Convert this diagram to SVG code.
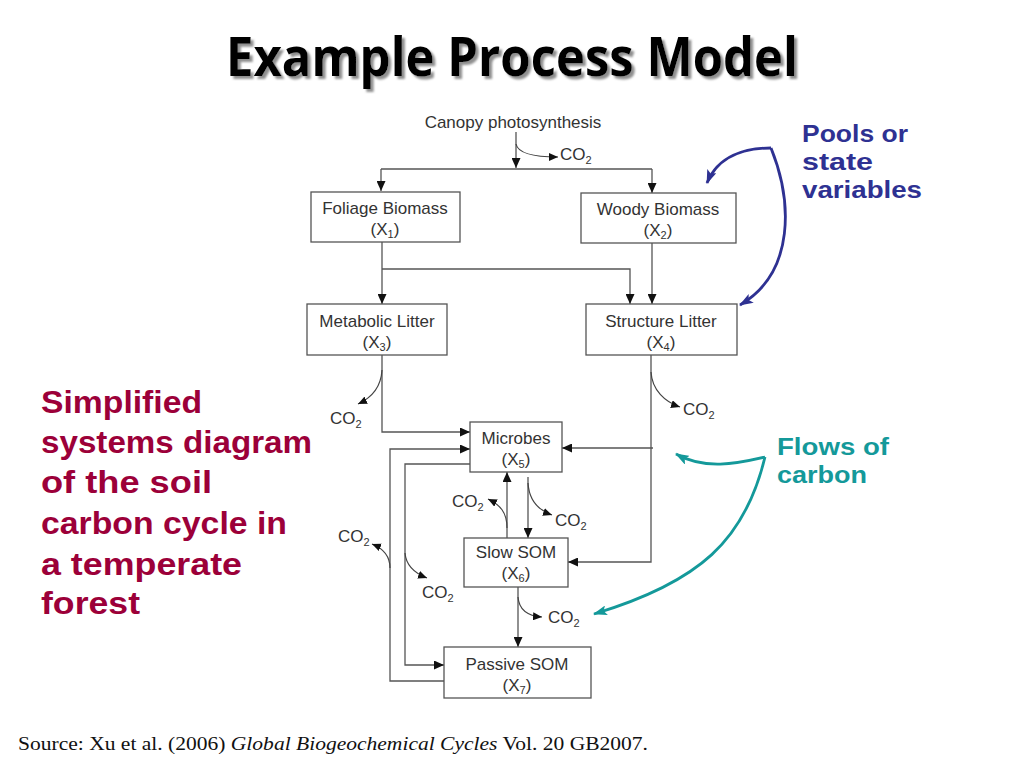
<svg xmlns="http://www.w3.org/2000/svg" width="1024" height="768" viewBox="0 0 1024 768">
<style>
.box{fill:#fff;stroke:#555;stroke-width:1.3}
.lbl{font-family:"Liberation Sans",Arial,sans-serif;font-size:17px;fill:#333;text-anchor:middle}
.co2{font-family:"Liberation Sans",Arial,sans-serif;font-size:17px;fill:#333}
.sub{font-size:11px}
.con{fill:none;stroke:#555;stroke-width:1.3}
.co2c{fill:none;stroke:#444;stroke-width:1.2}
.title{font-family:"Open Sans","DejaVu Sans",sans-serif;font-weight:bold;font-size:54px}
.note{font-family:"Liberation Sans",Arial,sans-serif;font-weight:bold}
.blue{fill:none;stroke:#2E3192;stroke-width:2.8}
.teal{fill:none;stroke:#14999A;stroke-width:2.8}
</style>
<defs>
<filter id="shadow" x="-5%" y="-20%" width="110%" height="150%"><feDropShadow dx="3" dy="3" stdDeviation="0.8" flood-color="#8f8f8f" flood-opacity="1"/></filter>
<marker id="ah" markerUnits="userSpaceOnUse" markerWidth="10" markerHeight="9" refX="10" refY="4.5" orient="auto"><path d="M0,0 L10,4.5 L0,9 z" fill="#111"/></marker>
<marker id="ahs" markerUnits="userSpaceOnUse" markerWidth="9" markerHeight="8" refX="9" refY="4" orient="auto"><path d="M0,0 L9,4 L0,8 z" fill="#111"/></marker>
<marker id="ahb" markerUnits="userSpaceOnUse" markerWidth="14" markerHeight="10" refX="13" refY="5" orient="auto"><path d="M0,0 L14,5 L0,10 L3,5 z" fill="#2E3192"/></marker>
<marker id="aht" markerUnits="userSpaceOnUse" markerWidth="14" markerHeight="10" refX="13" refY="5" orient="auto"><path d="M0,0 L14,5 L0,10 L3,5 z" fill="#14999A"/></marker>
</defs>
<rect width="1024" height="768" fill="#fff"/>

<g id="title">
<text class="title" x="226" y="76" fill="#000" filter="url(#shadow)" textLength="572" lengthAdjust="spacingAndGlyphs">Example Process Model</text>
</g>

<g id="canopy"><text class="lbl" x="513" y="128">Canopy photosynthesis</text></g>

<g id="connectors">
<path class="con" d="M516,132 L516,168" marker-end="url(#ah)"/>
<path class="con" d="M381,169 L652,169"/>
<path class="con" d="M381,169 L381,191" marker-end="url(#ah)"/>
<path class="con" d="M652,169 L652,193" marker-end="url(#ah)"/>
<path class="con" d="M382,242 L382,304" marker-end="url(#ah)"/>
<path class="con" d="M382,269 L630,269 L630,304" marker-end="url(#ah)"/>
<path class="con" d="M652,243 L652,304" marker-end="url(#ah)"/>
<path class="con" d="M382,355 L382,432 L470,432" marker-end="url(#ah)"/>
<path class="con" d="M651,355 L651,562 L568,562" marker-end="url(#ah)"/>
<path class="con" d="M653,448 L562,448" marker-end="url(#ah)"/>
<path class="con" d="M528,477 L528,538" marker-end="url(#ah)"/>
<path class="con" d="M507,538 L507,472" marker-end="url(#ah)"/>
<path class="con" d="M470,464 L405,464 L405,665 L444,665" marker-end="url(#ah)"/>
<path class="con" d="M444,681 L390,681 L390,449 L470,449" marker-end="url(#ah)"/>
<path class="con" d="M518,587 L518,647" marker-end="url(#ah)"/>
<path class="co2c" d="M516,144 C518,154 535,157 558,157" marker-end="url(#ahs)"/>
<path class="co2c" d="M382,370 C381,388 371,398 358,404" marker-end="url(#ahs)"/>
<path class="co2c" d="M651,372 C652,390 665,402 680,407" marker-end="url(#ahs)"/>
<path class="co2c" d="M507,528 C507,512 500,505 488,499" marker-end="url(#ahs)"/>
<path class="co2c" d="M528,483 C529,500 538,510 552,515" marker-end="url(#ahs)"/>
<path class="co2c" d="M518,597 C519,610 528,616 542,617" marker-end="url(#ahs)"/>
<path class="co2c" d="M390,568 C390,555 382,548 372,544" marker-end="url(#ahs)"/>
<path class="co2c" d="M405,553 C406,565 414,573 427,578" marker-end="url(#ahs)"/>
</g>

<g id="co2-labels">
<text class="co2" x="560" y="160">CO<tspan class="sub" dy="4">2</tspan></text>
<text class="co2" x="330" y="424">CO<tspan class="sub" dy="4">2</tspan></text>
<text class="co2" x="683" y="415">CO<tspan class="sub" dy="4">2</tspan></text>
<text class="co2" x="452" y="507">CO<tspan class="sub" dy="4">2</tspan></text>
<text class="co2" x="555" y="526">CO<tspan class="sub" dy="4">2</tspan></text>
<text class="co2" x="548" y="623">CO<tspan class="sub" dy="4">2</tspan></text>
<text class="co2" x="338" y="542">CO<tspan class="sub" dy="4">2</tspan></text>
<text class="co2" x="422" y="598">CO<tspan class="sub" dy="4">2</tspan></text>
</g>

<g id="foliage">
<rect class="box" x="311" y="192" width="149" height="50"/>
<text class="lbl" x="385" y="214">Foliage Biomass</text>
<text class="lbl" x="385" y="235">(X<tspan class="sub" dy="3">1</tspan><tspan dy="-3">)</tspan></text>
</g>
<g id="woody">
<rect class="box" x="581" y="193" width="155" height="50"/>
<text class="lbl" x="658" y="215">Woody Biomass</text>
<text class="lbl" x="658" y="236">(X<tspan class="sub" dy="3">2</tspan><tspan dy="-3">)</tspan></text>
</g>
<g id="metabolic">
<rect class="box" x="307" y="304" width="140" height="51"/>
<text class="lbl" x="377" y="327">Metabolic Litter</text>
<text class="lbl" x="377" y="348">(X<tspan class="sub" dy="3">3</tspan><tspan dy="-3">)</tspan></text>
</g>
<g id="structure">
<rect class="box" x="586" y="304" width="151" height="51"/>
<text class="lbl" x="661" y="327">Structure Litter</text>
<text class="lbl" x="661" y="348">(X<tspan class="sub" dy="3">4</tspan><tspan dy="-3">)</tspan></text>
</g>
<g id="microbes">
<rect class="box" x="470" y="422" width="92" height="50"/>
<text class="lbl" x="516" y="444">Microbes</text>
<text class="lbl" x="516" y="465">(X<tspan class="sub" dy="3">5</tspan><tspan dy="-3">)</tspan></text>
</g>
<g id="slow">
<rect class="box" x="464" y="538" width="104" height="49"/>
<text class="lbl" x="516" y="558">Slow SOM</text>
<text class="lbl" x="516" y="579">(X<tspan class="sub" dy="3">6</tspan><tspan dy="-3">)</tspan></text>
</g>
<g id="passive">
<rect class="box" x="444" y="647" width="147" height="51"/>
<text class="lbl" x="517" y="670">Passive SOM</text>
<text class="lbl" x="517" y="691">(X<tspan class="sub" dy="3">7</tspan><tspan dy="-3">)</tspan></text>
</g>

<g id="pools-note">
<path class="blue" d="M771,148 C745,148 718,156 707,183" marker-end="url(#ahb)"/>
<path class="blue" d="M771,148 C792,200 796,272 740,305" marker-end="url(#ahb)"/>
<g class="note" font-size="24" fill="#2E3192">
<text x="802" y="142" textLength="106" lengthAdjust="spacingAndGlyphs">Pools or</text>
<text x="802" y="170" textLength="71" lengthAdjust="spacingAndGlyphs">state</text>
<text x="802" y="198" textLength="120" lengthAdjust="spacingAndGlyphs">variables</text>
</g>
</g>

<g id="flows-note">
<path class="teal" d="M765,457 C735,464 705,470 676,454" marker-end="url(#aht)"/>
<path class="teal" d="M765,457 C745,540 700,582 594,614" marker-end="url(#aht)"/>
<g class="note" font-size="24" fill="#14999A">
<text x="777" y="455" textLength="112" lengthAdjust="spacingAndGlyphs">Flows of</text>
<text x="777" y="483" textLength="90" lengthAdjust="spacingAndGlyphs">carbon</text>
</g>
</g>

<g id="caption" class="note" font-size="32" fill="#9C0039">
<text x="41" y="413" textLength="161" lengthAdjust="spacingAndGlyphs">Simplified</text>
<text x="41" y="453" textLength="271" lengthAdjust="spacingAndGlyphs">systems diagram</text>
<text x="41" y="493" textLength="171" lengthAdjust="spacingAndGlyphs">of the soil</text>
<text x="41" y="534" textLength="246" lengthAdjust="spacingAndGlyphs">carbon cycle in</text>
<text x="41" y="575" textLength="201" lengthAdjust="spacingAndGlyphs">a temperate</text>
<text x="41" y="614" textLength="99" lengthAdjust="spacingAndGlyphs">forest</text>
</g>

<g id="source">
<text x="18" y="750" font-family="'Liberation Serif','Times New Roman',serif" font-size="19" fill="#111" textLength="630" lengthAdjust="spacingAndGlyphs">Source: Xu et al. (2006) <tspan font-style="italic">Global Biogeochemical Cycles</tspan> Vol. 20 GB2007.</text>
</g>
</svg>
